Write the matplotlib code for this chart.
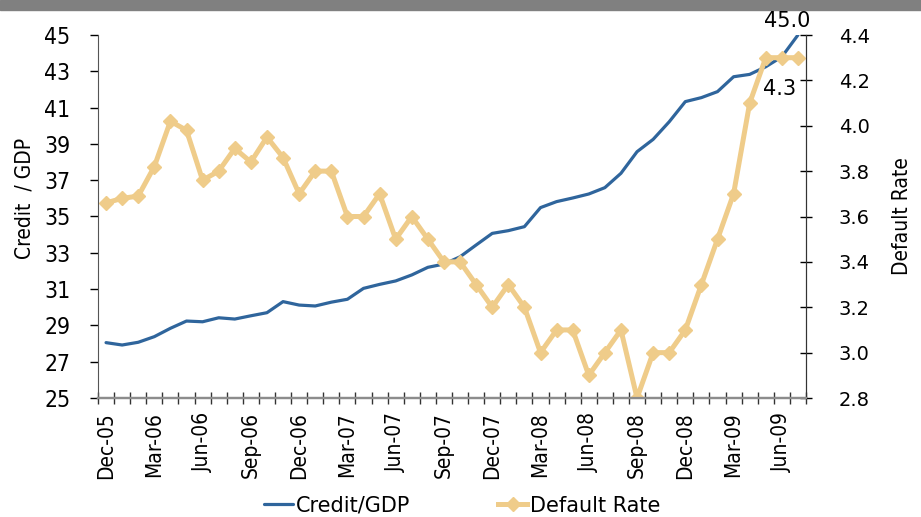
import matplotlib
matplotlib.use("Agg")
import matplotlib.pyplot as plt
from matplotlib.patches import Rectangle
import pandas as pd

# monthly categories Dec-05 .. Jul-09
months = [d.strftime("%b-%y") for d in pd.date_range("2005-12-01", "2009-07-01", freq="MS")]

credit_gdp = [28.05, 27.92, 28.07, 28.38, 28.84, 29.24, 29.20, 29.42, 29.35, 29.53,
              29.70, 30.31, 30.12, 30.07, 30.28, 30.44, 31.04, 31.26, 31.45, 31.78,
              32.20, 32.38, 32.78, 33.43, 34.07, 34.22, 34.44, 35.49, 35.82, 36.02,
              36.24, 36.59, 37.38, 38.57, 39.25, 40.22, 41.33, 41.55, 41.88, 42.70,
              42.83, 43.25, 43.80, 45.00]

default_rate = [3.66, 3.68, 3.69, 3.82, 4.02, 3.98, 3.76, 3.80, 3.90, 3.84,
                3.95, 3.86, 3.70, 3.80, 3.80, 3.60, 3.60, 3.70, 3.50, 3.60,
                3.50, 3.40, 3.40, 3.30, 3.20, 3.30, 3.20, 3.00, 3.10, 3.10,
                2.90, 3.00, 3.10, 2.80, 3.00, 3.00, 3.10, 3.30, 3.50, 3.70,
                4.10, 4.30, 4.30, 4.30]

left_ticks = [25, 27, 29, 31, 33, 35, 37, 39, 41, 43, 45]
right_ticks = [2.8, 3.0, 3.2, 3.4, 3.6, 3.8, 4.0, 4.2, 4.4]

BLUE = "#2f659c"
GOLD = "#efcc8a"
cond = dict(family="DejaVu Sans", fontstretch="condensed")

fig = plt.figure(figsize=(9.21, 5.17), dpi=100)
fig.add_artist(Rectangle((0, 1 - 10 / 517), 1, 10 / 517, transform=fig.transFigure,
                         color="#808080", zorder=0))

ax = fig.add_axes([98 / 921, 1 - 398 / 517, (806 - 98) / 921, (398 - 35) / 517])
ax2 = ax.twinx()

x = list(range(len(months)))
ax.plot(x, credit_gdp, color=BLUE, lw=2.3, label="Credit/GDP", solid_capstyle="round")
ax2.plot(x, default_rate, color=GOLD, lw=3.6, marker="D", ms=7.5, mec=GOLD,
         label="Default Rate", solid_joinstyle="round")

ax.set_xlim(-0.5, len(months) - 0.5)
ax.set_ylim(25, 45)
ax2.set_ylim(2.8, 4.4)

# labels every quarter, ticks at category boundaries
ax.set_xticks(x[::3])
ax.set_xticklabels(months[::3], rotation=90, fontsize=15, **cond)
ax.set_xticks([i - 0.5 for i in range(len(months) + 1)], minor=True)
ax.tick_params(axis="x", which="major", length=0, pad=10)
ax.tick_params(axis="x", which="minor", direction="inout", length=9, width=1, color="#333333")

ax.set_yticks(left_ticks)
ax.set_yticklabels([str(v) for v in left_ticks], fontsize=16.5, **cond)
ax.tick_params(axis="y", direction="out", length=6, width=1, pad=14)

ax2.set_yticks(right_ticks)
ax2.set_yticklabels([f"{v:.1f}" for v in right_ticks], fontsize=14)
ax2.tick_params(axis="y", direction="inout", length=9, width=1, pad=19)

for a in (ax, ax2):
    a.spines["top"].set_visible(False)
    a.spines["left"].set_color("#555555")
    a.spines["right"].set_color("#333333")
    a.spines["bottom"].set_color("#8c8c8c")
    a.spines["bottom"].set_linewidth(1.6)
ax2.spines["left"].set_visible(False)

ax.set_ylabel("Credit  / GDP", fontsize=15, **cond)
ax.yaxis.set_label_coords(-0.09, 0.55)
ax2.set_ylabel("Default Rate", fontsize=15, labelpad=16, **cond)

# end-point data labels
ax.annotate(f"{credit_gdp[-1]:.1f}", (x[-1], credit_gdp[-1]), xytext=(-8, 3),
            textcoords="offset points", ha="center", va="bottom", fontsize=15)
ax2.annotate(f"{default_rate[-1]:.1f}", (x[-1], default_rate[-1]), xytext=(-13, -15),
             textcoords="offset points", ha="center", va="top", fontsize=15)

h1, l1 = ax.get_legend_handles_labels()
h2, l2 = ax2.get_legend_handles_labels()
fig.legend(h1 + h2, l1 + l2, loc="center", bbox_to_anchor=(0.502, 0.022), ncol=2,
           frameon=False, fontsize=15, columnspacing=4.2, handlelength=1.4, handletextpad=0.15)

fig.savefig("out.png", dpi=100)
